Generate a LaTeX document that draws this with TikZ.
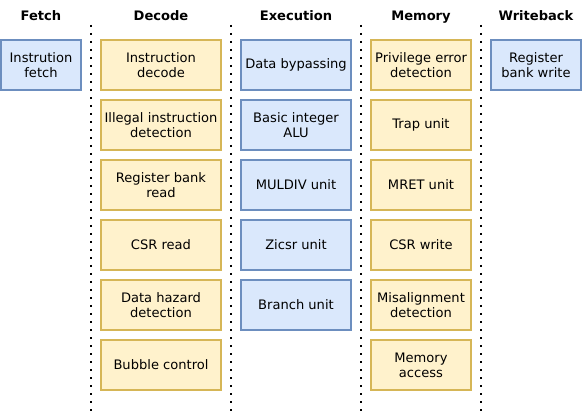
\documentclass[tikz,border=0pt]{standalone}
\usepackage{fontspec}
\setmainfont{DejaVu Sans}
\usetikzlibrary{positioning}
\definecolor{bluefill}{HTML}{DAE8FC}
\definecolor{bluedraw}{HTML}{6C8EBF}
\definecolor{yellowfill}{HTML}{FFF2CC}
\definecolor{yellowdraw}{HTML}{D6B656}

\begin{document}
\begin{tikzpicture}[x=0.75pt, y=-0.75pt, node distance=7.5pt,
    font=\fontsize{9.8}{11.2}\selectfont,
    unit/.style={draw, line width=1.3pt, minimum height=37.5pt, align=center,
      inner sep=1pt, outer sep=0pt},
    bluebox/.style={unit, fill=bluefill, draw=bluedraw},
    yellowbox/.style={unit, fill=yellowfill, draw=yellowdraw},
    stage/.style={font=\fontsize{9.8}{11.2}\selectfont\bfseries, text height=1.6ex, text depth=0.4ex},
    divider/.style={line width=1.5pt, dash pattern=on 1.5pt off 4.5pt}]
  \useasboundingbox (0,0) rectangle (582,413);

  % Stage titles
  \node[stage] (fetch) at (41,16) {Fetch};
  \node[stage] (decode) at (161,16) {Decode};
  \node[stage] (execution) at (296,16) {Execution};
  \node[stage] (memory) at (421,16) {Memory};
  \node[stage] (writeback) at (536,16) {Writeback};

  % Dividers
  \foreach \x in {91, 231, 361, 481}
    \draw[divider] (\x,25) -- (\x,413);

  % Fetch
  \node[bluebox, minimum width=60pt] (ifetch) at (41,65) {Instrution\\fetch};

  % Decode
  \node[yellowbox, minimum width=90pt] (idecode) at (161,65) {Instruction\\decode};
  \node[yellowbox, minimum width=90pt, below=of idecode] (illegal) {Illegal instruction\\detection};
  \node[yellowbox, minimum width=90pt, below=of illegal] (regread) {Register bank\\read};
  \node[yellowbox, minimum width=90pt, below=of regread] (csrread) {CSR read};
  \node[yellowbox, minimum width=90pt, below=of csrread] (hazard) {Data hazard\\detection};
  \node[yellowbox, minimum width=90pt, below=of hazard] (bubble) {Bubble control};

  % Execution
  \node[bluebox, minimum width=82.5pt] (bypass) at (296,65) {Data bypassing};
  \node[bluebox, minimum width=82.5pt, below=of bypass] (alu) {Basic integer\\ALU};
  \node[bluebox, minimum width=82.5pt, below=of alu] (muldiv) {MULDIV unit};
  \node[bluebox, minimum width=82.5pt, below=of muldiv] (zicsr) {Zicsr unit};
  \node[bluebox, minimum width=82.5pt, below=of zicsr] (branch) {Branch unit};

  % Memory
  \node[yellowbox, minimum width=75pt] (privilege) at (421,65) {Privilege error\\detection};
  \node[yellowbox, minimum width=75pt, below=of privilege] (trap) {Trap unit};
  \node[yellowbox, minimum width=75pt, below=of trap] (mret) {MRET unit};
  \node[yellowbox, minimum width=75pt, below=of mret] (csrwrite) {CSR write};
  \node[yellowbox, minimum width=75pt, below=of csrwrite] (misalign) {Misalignment\\detection};
  \node[yellowbox, minimum width=75pt, below=of misalign] (memaccess) {Memory\\access};

  % Writeback
  \node[bluebox, minimum width=67.5pt] (regwrite) at (536,65) {Register\\bank write};
\end{tikzpicture}
\end{document}
